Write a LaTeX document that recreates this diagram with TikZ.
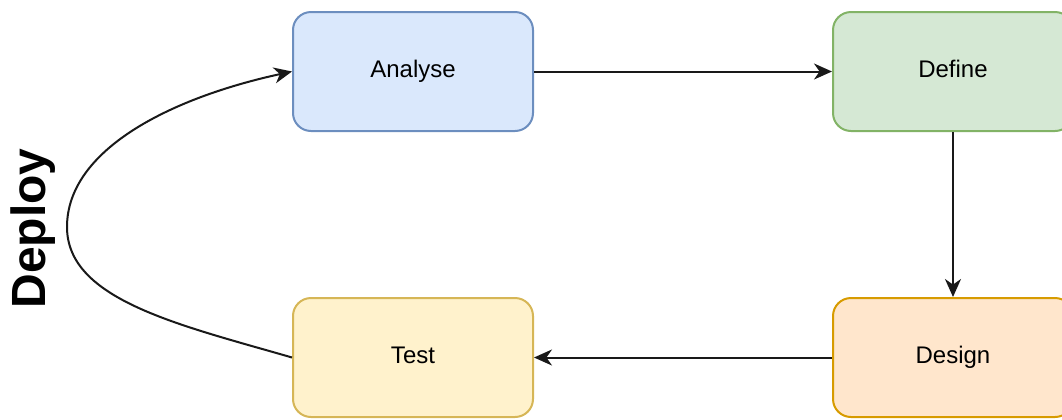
\documentclass[tikz,border=0pt]{standalone}
\usepackage{fontspec}
\setmainfont{Liberation Sans}
\usetikzlibrary{arrows.meta,positioning}
\definecolor{analysefill}{HTML}{DAE8FC}
\definecolor{analyseline}{HTML}{6C8EBF}
\definecolor{definefill}{HTML}{D5E8D4}
\definecolor{defineline}{HTML}{82B366}
\definecolor{designfill}{HTML}{FFE6CC}
\definecolor{designline}{HTML}{D79B00}
\definecolor{testfill}{HTML}{FFF2CC}
\definecolor{testline}{HTML}{D6B656}
\begin{document}
\begin{tikzpicture}[
  x=0.5pt, y=-0.5pt,
  font=\fontsize{12pt}{14pt}\selectfont,
  box/.style={draw, line width=1pt, rounded corners=9pt, align=center,
              minimum width=120pt, minimum height=59.5pt, inner sep=0pt,
              text height=8.6pt, text depth=2.2pt},
  analysebox/.style={box, draw=analyseline, fill=analysefill},
  definebox/.style={box, draw=defineline, fill=definefill},
  designbox/.style={box, draw=designline, fill=designfill},
  testbox/.style={box, draw=testline, fill=testfill},
  flow/.style={-{Stealth[length=9pt, width=8pt, inset=2.8pt]}, line width=1pt, draw=black!90}
]
\useasboundingbox (0,0) rectangle (1062,419);
\node[analysebox] (analyse) at (413,71.5) {Analyse};
\node[definebox, right=149pt of analyse] (define) {Define};
\node[designbox, below=82.5pt of define] (design) {Design};
\node[testbox, below=82.5pt of analyse] (test) {Test};
\draw[flow] (analyse) -- (define);
\draw[flow] (define) -- (design);
\draw[flow] (design) -- (test);

\node[font=\fontsize{24pt}{28pt}\selectfont\bfseries, rotate=90, inner sep=0pt]
  (deploy) at (33.5,228.5) {Deploy};
\draw[flow] (test.west) .. controls (180,325) and (67,300) .. (67,227)
  .. controls (67,150) and (170,98) .. (analyse.west);
\end{tikzpicture}
\end{document}
